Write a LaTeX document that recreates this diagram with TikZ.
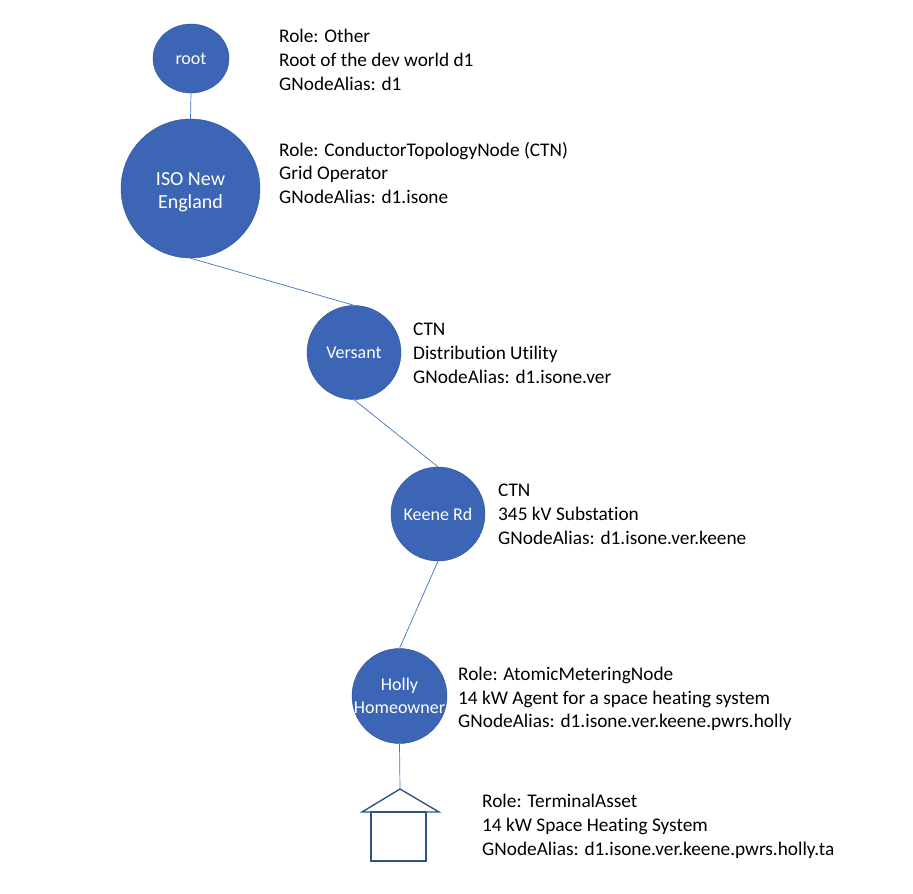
\documentclass[tikz,border=0pt]{standalone}
\usepackage{fontspec}
\usepackage{tikz}
\usetikzlibrary{shapes.geometric}
\setmainfont[Ligatures=NoCommon]{Carlito}
\definecolor{nodefill}{HTML}{3C65B6}
\definecolor{nodeline}{HTML}{2F528F}
\definecolor{edgeline}{HTML}{4472C4}

\begin{document}
\begin{tikzpicture}[x=1pt,y=-1pt]
	\useasboundingbox (0,0) rectangle (913,894);

	\begin{scope}[every node/.style={circle,draw=nodeline,fill=nodefill,text=white,inner sep=0pt,align=center,font=\fontsize{18}{23}\selectfont}]
		\node [ellipse,minimum width=76pt,minimum height=69pt] (root) at (191,58.5) {root};
		\node [minimum size=139pt,font=\fontsize{20}{23}\selectfont] (iso) at (190.5,188.5) {\rule{0pt}{20pt}ISO New\\England};
		\node [minimum size=94pt] (versant) at (354,352.5) {Versant};
		\node [minimum size=94pt] (keene) at (438,514) {Keene Rd};
		\node [minimum size=95pt,inner sep=-5pt] (holly) at (399.5,696) {Holly\\Homeowner};
	\end{scope}

	\begin{scope}[every node/.style={anchor=west,align=left,inner sep=0pt,text=black,font=\fontsize{19.3}{23.7}\selectfont}]
		\node (rootinfo) at (279,60) {Role: Other\\Root of the dev world d1\\GNodeAlias: d1};
		\node (isoinfo) at (279,173) {Role: ConductorTopologyNode (CTN)\\Grid Operator\\GNodeAlias: d1.isone};
		\node (versantinfo) at (413,353.5) {CTN\\Distribution Utility\\GNodeAlias: d1.isone.ver};
		\node (keeneinfo) at (498,514.5) {CTN\\345 kV Substation\\GNodeAlias: d1.isone.ver.keene};
		\node (hollyinfo) at (458,699) {Role: AtomicMeteringNode\\14 kW Agent for a space heating system\\GNodeAlias: d1.isone.ver.keene.pwrs.holly};
		\node (assetinfo) at (482,826.5) {Role: TerminalAsset\\14 kW Space Heating System\\GNodeAlias: d1.isone.ver.keene.pwrs.holly.ta};
	\end{scope}

	\begin{scope}[line width=1.4pt]
		\coordinate (apex) at (400,789);
		\draw [nodeline] (apex) -- (439,812) -- (362,812) -- cycle;
		\draw [nodeline] (371,812) rectangle (426,861);
	\end{scope}

	\begin{scope}[every path/.style={draw=edgeline,line width=0.7pt}]
		\path (root.south) -- (iso.north);
		\path (iso.south) -- (versant.north);
		\path (versant.south) -- (keene.north);
		\path (keene.south) -- (holly.north);
		\path (holly.south) -- (apex);
	\end{scope}
\end{tikzpicture}
\end{document}
